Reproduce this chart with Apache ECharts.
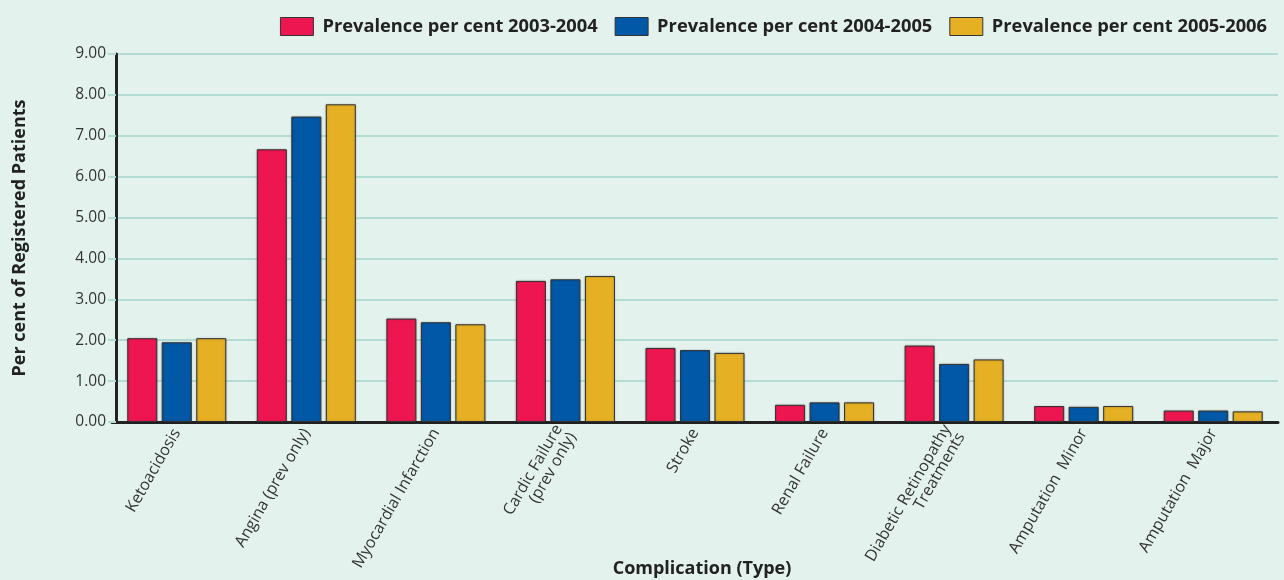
<!DOCTYPE html>
<html>
<head>
<meta charset="utf-8">
<script src="https://cdn.jsdelivr.net/npm/echarts@6/dist/echarts.min.js"></script>
<style>
html,body{margin:0;padding:0;background:#e4f2ee;}
#c{width:1284px;height:580px;}
</style>
</head>
<body>
<div id="c"></div>
<script>
const categories = ["Ketoacidosis","Angina (prev only)","Myocardial Infarction","Cardic Failure\n(prev only)","Stroke","Renal Failure","Diabetic Retinopathy\nTreatments","Amputation  Minor","Amputation  Major"];
const seriesNames = ["Prevalence per cent 2003-2004","Prevalence per cent 2004-2005","Prevalence per cent 2005-2006"];
const prev2003 = [2.05, 6.67, 2.53, 3.45, 1.81, 0.42, 1.87, 0.39, 0.28];
const prev2004 = [1.95, 7.47, 2.44, 3.49, 1.76, 0.48, 1.42, 0.37, 0.28];
const prev2005 = [2.05, 7.77, 2.39, 3.57, 1.69, 0.48, 1.53, 0.39, 0.26];
const colors = ["#ee1650", "#0058a6", "#e5b024"];
const yTicks = [0,1,2,3,4,5,6,7,8,9];

const font = "'Open Sans', 'Noto Sans', sans-serif";
const chart = echarts.init(document.getElementById('c'));
const mk = (name, data, color) => ({
  name, type: 'bar', data,
  barWidth: 30, barGap: '15%',
  itemStyle: {color, borderColor: '#333', borderWidth: 1, shadowColor: 'rgba(0,0,0,0.25)', shadowBlur: 2},
  emphasis: {disabled: true}
});
chart.setOption({
  backgroundColor: '#e4f2ee',
  animation: false,
  textStyle: {fontFamily: font},
  legend: {
    top: 12, right: 12, itemWidth: 33, itemHeight: 18, itemGap: 17, icon: 'rect',
    textStyle: {fontFamily: font, fontWeight: 'bold', fontSize: 18.3, color: '#222', padding: [0, 0, 0, 4]},
    itemStyle: {borderColor: '#333', borderWidth: 1},
    data: seriesNames
  },
  grid: {left: 112, right: 6, top: 54, bottom: 158, outerBoundsMode: 'none', containLabel: false},
  xAxis: {
    type: 'category', data: categories,
    name: 'Complication (Type)', nameLocation: 'middle', nameGap: 138, nameMoveOverlap: false,
    nameTextStyle: {fontFamily: font, fontWeight: 'bold', fontSize: 18, color: '#222', padding: [0, 0, 0, 14]},
    axisLine: {lineStyle: {color: '#222', width: 3}},
    axisTick: {alignWithLabel: true, length: 6, lineStyle: {color: '#444', width: 1.5}},
    axisLabel: {rotate: 60, fontSize: 16, color: '#333', margin: 8, interval: 0, fontFamily: font}
  },
  yAxis: {
    type: 'value', min: 0, max: 9, interval: 1, offset: -4,
    name: 'Per cent of Registered Patients', nameLocation: 'middle', nameGap: 87, nameMoveOverlap: false,
    nameTextStyle: {fontFamily: font, fontWeight: 'bold', fontSize: 18, color: '#222'},
    axisLine: {show: true, lineStyle: {color: '#222', width: 3}},
    axisTick: {show: true, length: 8, lineStyle: {color: '#b3ddd4', width: 2}},
    axisLabel: {fontSize: 15.5, color: '#333', margin: 10, fontFamily: font,
      formatter: v => yTicks.includes(v) ? v.toFixed(2) : ''},
    splitLine: {lineStyle: {color: '#b3ddd4', width: 2}}
  },
  series: [mk(seriesNames[0], prev2003, colors[0]), mk(seriesNames[1], prev2004, colors[1]), mk(seriesNames[2], prev2005, colors[2])]
});
</script>
</body>
</html>
